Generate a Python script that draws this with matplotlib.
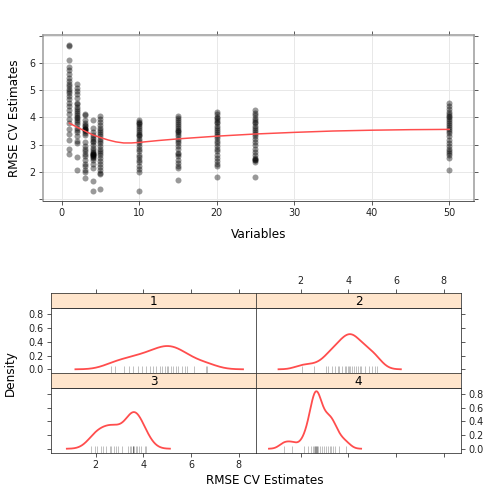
import numpy as np
import matplotlib
matplotlib.use("Agg")
import matplotlib.pyplot as plt

# --- data ---
variables = [1, 2, 3, 4, 5, 10, 15, 20, 25, 50]

rmse_1 = [6.68, 6.62, 6.12, 5.85, 5.75, 5.62, 5.45, 5.35, 5.25, 5.15, 5.05, 4.98, 4.90,
          4.80, 4.68, 4.55, 4.42, 4.28, 4.12, 3.95, 3.78, 3.58, 3.38, 3.18, 2.82, 2.65]
rmse_2 = [5.22, 5.10, 4.98, 4.85, 4.70, 4.55, 4.48, 4.40, 4.30, 4.22, 4.15, 4.08, 4.02,
          3.98, 3.92, 3.85, 3.75, 3.62, 3.55, 3.45, 3.30, 3.15, 3.05, 2.56, 2.05]
rmse_3 = [4.12, 4.08, 3.92, 3.80, 3.72, 3.68, 3.62, 3.58, 3.58, 3.55, 3.50, 3.42, 3.35,
          3.10, 2.95, 2.85, 2.75, 2.65, 2.58, 2.45, 2.30, 2.20, 2.05, 1.98, 1.78]
rmse_4 = [3.90, 3.62, 3.45, 3.35, 3.28, 3.22, 3.15, 3.08, 2.98, 2.88, 2.80, 2.74, 2.70,
          2.67, 2.65, 2.63, 2.61, 2.58, 2.55, 2.50, 2.42, 2.30, 2.12, 1.65, 1.30]
rmse_5 = [4.05, 3.95, 3.85, 3.72, 3.60, 3.52, 3.45, 3.38, 3.30, 3.22, 3.15, 3.05, 2.95,
          2.85, 2.78, 2.70, 2.62, 2.50, 2.40, 2.28, 2.18, 2.05, 1.95, 1.90, 1.38]
rmse_10 = [3.90, 3.85, 3.80, 3.75, 3.68, 3.60, 3.52, 3.45, 3.40, 3.35, 3.30, 3.22, 3.15,
           3.05, 2.95, 2.85, 2.75, 2.62, 2.55, 2.45, 2.35, 2.22, 2.10, 2.00, 1.30]
rmse_15 = [4.05, 3.98, 3.90, 3.82, 3.75, 3.68, 3.60, 3.55, 3.50, 3.45, 3.38, 3.30, 3.22,
           3.15, 3.05, 2.95, 2.85, 2.70, 2.65, 2.58, 2.45, 2.32, 2.22, 2.12, 1.70]
rmse_20 = [4.20, 4.12, 4.02, 3.98, 3.92, 3.85, 3.78, 3.70, 3.62, 3.55, 3.48, 3.40, 3.32,
           3.25, 3.15, 3.05, 2.95, 2.85, 2.75, 2.62, 2.50, 2.38, 2.28, 2.20, 1.80]
rmse_25 = [4.28, 4.18, 4.08, 3.98, 3.92, 3.85, 3.78, 3.70, 3.62, 3.55, 3.48, 3.40, 3.30,
           3.20, 3.10, 2.98, 2.85, 2.72, 2.60, 2.52, 2.48, 2.42, 2.35, 2.45, 1.80]
rmse_50 = [4.55, 4.42, 4.32, 4.20, 4.12, 4.05, 4.00, 3.95, 3.88, 3.80, 3.72, 3.65, 3.58,
           3.50, 3.42, 3.30, 3.18, 3.05, 2.95, 2.85, 2.78, 2.70, 2.60, 2.52, 2.08]

rmse_by_var = [rmse_1, rmse_2, rmse_3, rmse_4, rmse_5,
               rmse_10, rmse_15, rmse_20, rmse_25, rmse_50]

# smoother
smooth_x = [1, 2, 3, 4, 5, 6, 7, 8, 9, 10, 12.5, 15, 20, 25, 30, 35, 40, 45, 50]
smooth_y = [3.79, 3.64, 3.50, 3.36, 3.26, 3.17, 3.10, 3.06, 3.06, 3.08, 3.15, 3.21,
            3.31, 3.39, 3.45, 3.50, 3.53, 3.55, 3.56]

panel_labels = ["1", "2", "3", "4"]

RED = "#FF4D4D"
STRIP = "#FFE5CC"
TICK_FS = 9.6
LAB_FS = 12


def fr(l, t, r, b):
    # pixel box -> figure fraction
    return [l / 504, 1 - b / 504, (r - l) / 504, (b - t) / 504]


def density(vals):
    # gaussian kde, R's nrd0 bandwidth, cut = 3
    v = np.asarray(vals)
    n = len(v)
    iqr = np.subtract(*np.percentile(v, [75, 25]))
    bw = 0.9 * min(v.std(ddof=1), iqr / 1.34) * n ** -0.2
    xs = np.linspace(v.min() - 3 * bw, v.max() + 3 * bw, 512)
    ys = np.exp(-0.5 * ((xs[:, None] - v[None, :]) / bw) ** 2).sum(axis=1)
    ys /= n * bw * np.sqrt(2 * np.pi)
    return xs, ys


fig = plt.figure(figsize=(7, 7), dpi=72)

# --- top: scatter + smoother ---
ax = fig.add_axes(fr(43, 35, 474, 201))
for xv, ys in zip(variables, rmse_by_var):
    ax.plot([xv] * len(ys), ys, "o", ms=6, mec="none", mfc="black", alpha=0.4)
ax.plot(smooth_x, smooth_y, color=RED, lw=1.5)
ax.set_xlim(-2.4, 53.2)
ax.set_ylim(0.92, 7.04)
ax.set_xticks([0, 10, 20, 30, 40, 50])
ax.set_yticks([1, 2, 3, 4, 5, 6, 7])
ax.set_yticklabels(["", "2", "3", "4", "5", "6", ""])
ax.grid(True, color="#E8E8E8", lw=1)
ax.set_axisbelow(True)
ax.tick_params(top=True, right=True, direction="out", length=4, labelsize=TICK_FS,
               color="#333333", labelcolor="#222222")
for s in ["top", "right", "left"]:
    ax.spines[s].set_color("#999999")
    ax.spines[s].set_linewidth(1.5)
ax.spines["bottom"].set_color("#333333")
ax.set_xlabel("Variables", fontsize=LAB_FS, labelpad=9)
ax.set_ylabel("RMSE CV Estimates", fontsize=LAB_FS, labelpad=8)

# --- bottom: density panels ---
cols = [(51, 256), (256, 461)]
rows = [(293.3, 308.3, 373.3), (373.3, 388.3, 452.7)]
xlim = (0.12, 8.73)
ylim = (-0.058, 0.887)

for i, (lab, vals) in enumerate(zip(panel_labels, rmse_by_var[:4])):
    r, c = divmod(i, 2)
    l, rgt = cols[c]
    st, pt, pb = rows[r]

    pax = fig.add_axes(fr(l, pt, rgt, pb))
    xs, ys = density(vals)
    pax.plot(xs, ys, color=RED, lw=1.8)
    pax.plot(vals, [0] * len(vals), "|", ms=7, mew=0.8, color="black", alpha=0.3)
    pax.set_xlim(*xlim)
    pax.set_ylim(*ylim)
    pax.set_xticks([2, 4, 6, 8])
    pax.set_yticks([0, 0.2, 0.4, 0.6, 0.8])
    pax.tick_params(direction="out", length=4, labelsize=TICK_FS, color="#333333",
                    labelcolor="#222222", bottom=False, labelbottom=False,
                    left=False, labelleft=False)
    if i == 0:
        pax.tick_params(left=True, labelleft=True)
        pax.set_yticklabels(["0.0", "0.2", "0.4", "0.6", "0.8"])
    if i == 1:
        pax.tick_params(right=True)
    if i == 2:
        pax.tick_params(left=True, bottom=True, labelbottom=True)
    if i == 3:
        pax.tick_params(right=True, labelright=True, bottom=True)
        pax.set_yticklabels(["0.0", "0.2", "0.4", "0.6", "0.8"])
    for s in pax.spines.values():
        s.set_color("#333333")

    sax = fig.add_axes(fr(l, st, rgt, pt))
    sax.set_facecolor(STRIP)
    sax.set_xlim(*xlim)
    sax.set_yticks([])
    sax.set_xticks([2, 4, 6, 8])
    sax.tick_params(direction="out", length=4, labelsize=TICK_FS, color="#333333",
                    labelcolor="#222222", bottom=False, labelbottom=False,
                    top=(r == 0), labeltop=(i == 1))
    sax.text(0.5, 0.45, lab, transform=sax.transAxes, ha="center", va="center",
             fontsize=LAB_FS)
    for s in sax.spines.values():
        s.set_color("#333333")

fig.text(265 / 504, 1 - 487 / 504, "RMSE CV Estimates", ha="center", va="bottom",
         fontsize=LAB_FS)
fig.text(10 / 504, 1 - 373 / 504, "Density", ha="center", va="center",
         rotation=90, fontsize=LAB_FS)

fig.savefig("out.png", dpi=72)
